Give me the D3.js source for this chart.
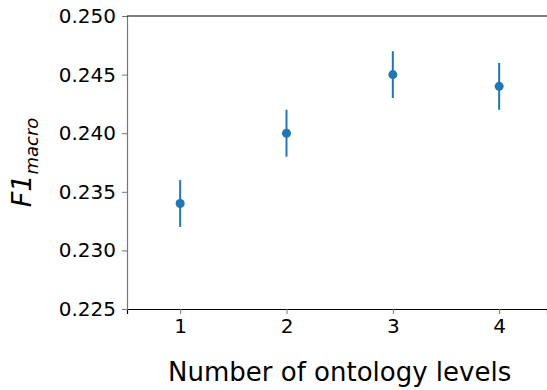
<!DOCTYPE html>
<html>
<head>
<meta charset="utf-8">
<script src="https://cdn.jsdelivr.net/npm/d3@7"></script>
<style>
body { margin: 0; background: #fff; }
text { font-family: "DejaVu Sans", sans-serif; }
</style>
</head>
<body>
<div id="chart"></div>
<script>
// data
var levels = [ 1, 2, 3, 4 ];
var f1Macro = [ 0.234, 0.240, 0.245, 0.244 ];
var f1Err = [ 0.002, 0.002, 0.002, 0.002 ];
var yTicks = [ 0.225, 0.230, 0.235, 0.240, 0.245, 0.250 ];

var margin = { top: 16, right: 0, bottom: 81, left: 127 },
	width = 547 - margin.left - margin.right,
	height = 390 - margin.top - margin.bottom;

var svg = d3.select( "#chart" )
	.append( "svg" )
	.attr( "width", 547 )
	.attr( "height", 390 );

var g = svg.append( "g" )
	.attr( "transform", "translate(" + margin.left + "," + margin.top + ")" );

var x = d3.scaleLinear()
	.domain( [ 0.5, 4.45 ] )
	.range( [ 0, width ] );

var y = d3.scaleLinear()
	.domain( [ 0.225, 0.250 ] )
	.range( [ height, 0 ] );

// x axis
var xAxis = g.append( "g" )
	.attr( "transform", "translate(0," + height + ")" )
	.call( d3.axisBottom( x ).tickValues( levels ).tickFormat( d3.format( "d" ) ).tickSizeOuter( 0 ).tickSize( 5 ).tickPadding( 5 ) );
xAxis.select( ".domain" ).attr( "stroke", "#000" ).attr( "stroke-width", 1.2 );
xAxis.selectAll( ".tick line" ).attr( "stroke", "#777" );
xAxis.selectAll( "text" ).style( "font-size", "20px" ).attr( "fill", "#000" );

// y axis
var yAxis = g.append( "g" )
	.call( d3.axisLeft( y ).tickValues( yTicks ).tickFormat( d3.format( ".3f" ) ).tickSizeOuter( 0 ).tickSize( 5 ).tickPadding( 6 ) );
yAxis.select( ".domain" ).attr( "stroke", "#777" ).attr( "stroke-width", 1.2 );
yAxis.selectAll( ".tick line" ).attr( "stroke", "#777" );
yAxis.selectAll( "text" ).style( "font-size", "20px" ).attr( "fill", "#000" );

// top spine
g.append( "line" )
	.attr( "x1", 0 ).attr( "x2", width )
	.attr( "y1", 0 ).attr( "y2", 0 )
	.attr( "stroke", "#000" ).attr( "stroke-width", 1.2 );

var data = levels.map( function( d, i ) {
	return { level: d, value: f1Macro[ i ], err: f1Err[ i ] };
} );

// error bars
g.selectAll( ".err" )
	.data( data )
	.enter()
	.append( "line" )
	.attr( "class", "err" )
	.attr( "x1", function( d ) { return x( d.level ); } )
	.attr( "x2", function( d ) { return x( d.level ); } )
	.attr( "y1", function( d ) { return y( d.value - d.err ); } )
	.attr( "y2", function( d ) { return y( d.value + d.err ); } )
	.attr( "stroke", "#1f77b4" )
	.attr( "stroke-width", 2 );

// points
g.selectAll( ".dot" )
	.data( data )
	.enter()
	.append( "circle" )
	.attr( "class", "dot" )
	.attr( "cx", function( d ) { return x( d.level ); } )
	.attr( "cy", function( d ) { return y( d.value ); } )
	.attr( "r", 4.5 )
	.attr( "fill", "#1f77b4" );

// x label
svg.append( "text" )
	.attr( "x", margin.left + x( 2.5 ) )
	.attr( "y", 381 )
	.attr( "text-anchor", "middle" )
	.style( "font-size", "26px" )
	.text( "Number of ontology levels" );

// y label
var yl = svg.append( "text" )
	.attr( "transform", "translate(31," + ( margin.top + height / 2 ) + ") rotate(-90)" )
	.attr( "text-anchor", "middle" )
	.style( "font-size", "27px" )
	.style( "font-style", "italic" );
yl.append( "tspan" ).text( "F1" );
yl.append( "tspan" ).attr( "dy", 7 ).style( "font-size", "18px" ).text( "macro" );
</script>
</body>
</html>
